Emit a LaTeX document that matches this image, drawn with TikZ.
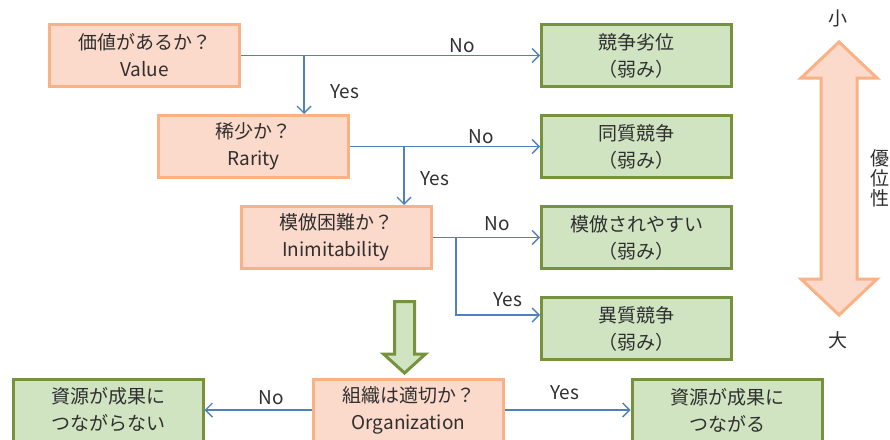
\documentclass[tikz,border=0pt]{standalone}
\usepackage{fontspec}
\setmainfont{Noto Sans CJK JP}
\usetikzlibrary{arrows.meta}
\definecolor{obox}{HTML}{FCDACB}
\definecolor{oline}{HTML}{F9B186}
\definecolor{gbox}{HTML}{D0E4C2}
\definecolor{gline}{HTML}{76923C}
\definecolor{blu}{HTML}{4F81BD}
\definecolor{txt}{HTML}{2F2F2F}
\tikzset{
  base/.style={minimum width=190pt,minimum height=62pt,line width=3pt,align=center,
    text=txt,font=\fontsize{19}{27}\selectfont,inner sep=0pt},
  qbox/.style={base,fill=obox,draw=oline},
  abox/.style={base,fill=gbox,draw=gline},
  conn/.style={draw=blu,line width=1.6pt},
  arr/.style={conn,-{Straight Barb[length=7pt,width=14pt,line width=1.4pt]}},
  lbl/.style={text=txt,font=\fontsize{19}{24}\selectfont,inner sep=0pt},
}
\begin{document}
\begin{tikzpicture}[x=1pt,y=-1pt]
\useasboundingbox (0,0) rectangle (890,439);
% question boxes
\node[qbox] (v) at (144.5,55.5) {価値があるか？\\Value};
\node[qbox] (r) at (253.5,146.5) {稀少か？\\Rarity};
\node[qbox] (i) at (336,237.5) {模倣困難か？\\Inimitability};
\node[qbox] (o) at (408.5,410) {組織は適切か？\\Organization};
% answer boxes
\node[abox] (a1) at (636.5,55.5) {競争劣位\\（弱み）};
\node[abox] (a2) at (636.5,146.5) {同質競争\\（弱み）};
\node[abox] (a3) at (636.5,237.5) {模倣されやすい\\（弱み）};
\node[abox] (a4) at (636.5,328.5) {異質競争\\（弱み）};
\node[abox] (b1) at (108,410) {資源が成果に\\つながらない};
\node[abox] (b2) at (727,410) {資源が成果に\\つながる};
% connectors
\coordinate (j1) at (304,55.5);
\coordinate (j2) at (404,146.5);
\coordinate (j3) at (456,237.5);
\coordinate (j4) at (456,315);
\draw[arr] (v.east) -- (a1.west);
\draw[arr] (j1) -- (j1 |- r.north);
\draw[arr] (r.east) -- (a2.west);
\draw[arr] (j2) -- (j2 |- i.north);
\draw[arr] (i.east) -- (a3.west);
\draw[arr] (j3) -- (j4) -- (j4 -| a4.west);
\draw[arr] (o.west) -- (b1.east);
\draw[arr] (o.east) -- (b2.west);
% labels
\node[lbl] (l1) at (462,46) {No};
\node[lbl] (l2) at (345,92) {Yes};
\node[lbl] (l3) at (481,137) {No};
\node[lbl] (l4) at (435,179) {Yes};
\node[lbl] (l5) at (497,224) {No};
\node[lbl] (l6) at (508,300) {Yes};
\node[lbl] (l7) at (271,398) {No};
\node[lbl] (l8) at (565,393) {Yes};
% green hollow arrow
\draw[line width=3pt,draw=gline,fill=gbox,line join=miter]
  (394.5,301.5) -- (414.5,301.5) -- (414.5,354) -- (425.5,354) -- (404.5,373)
  -- (383.5,354) -- (394.5,354) -- cycle;
% orange double arrow
\draw[line width=3pt,draw=oline,fill=obox,line join=miter]
  (839,42) -- (877,78) -- (857,78) -- (857,279) -- (877,279) -- (839,315)
  -- (801,279) -- (821,279) -- (821,78) -- (801,78) -- cycle;
\node[lbl] (sm) at (838,18) {小};
\node[lbl] (lg) at (838,340) {大};
\node[lbl,align=center,font=\fontsize{19}{20}\selectfont] (ad) at (880,178) {優\\位\\性};
\end{tikzpicture}
\end{document}
